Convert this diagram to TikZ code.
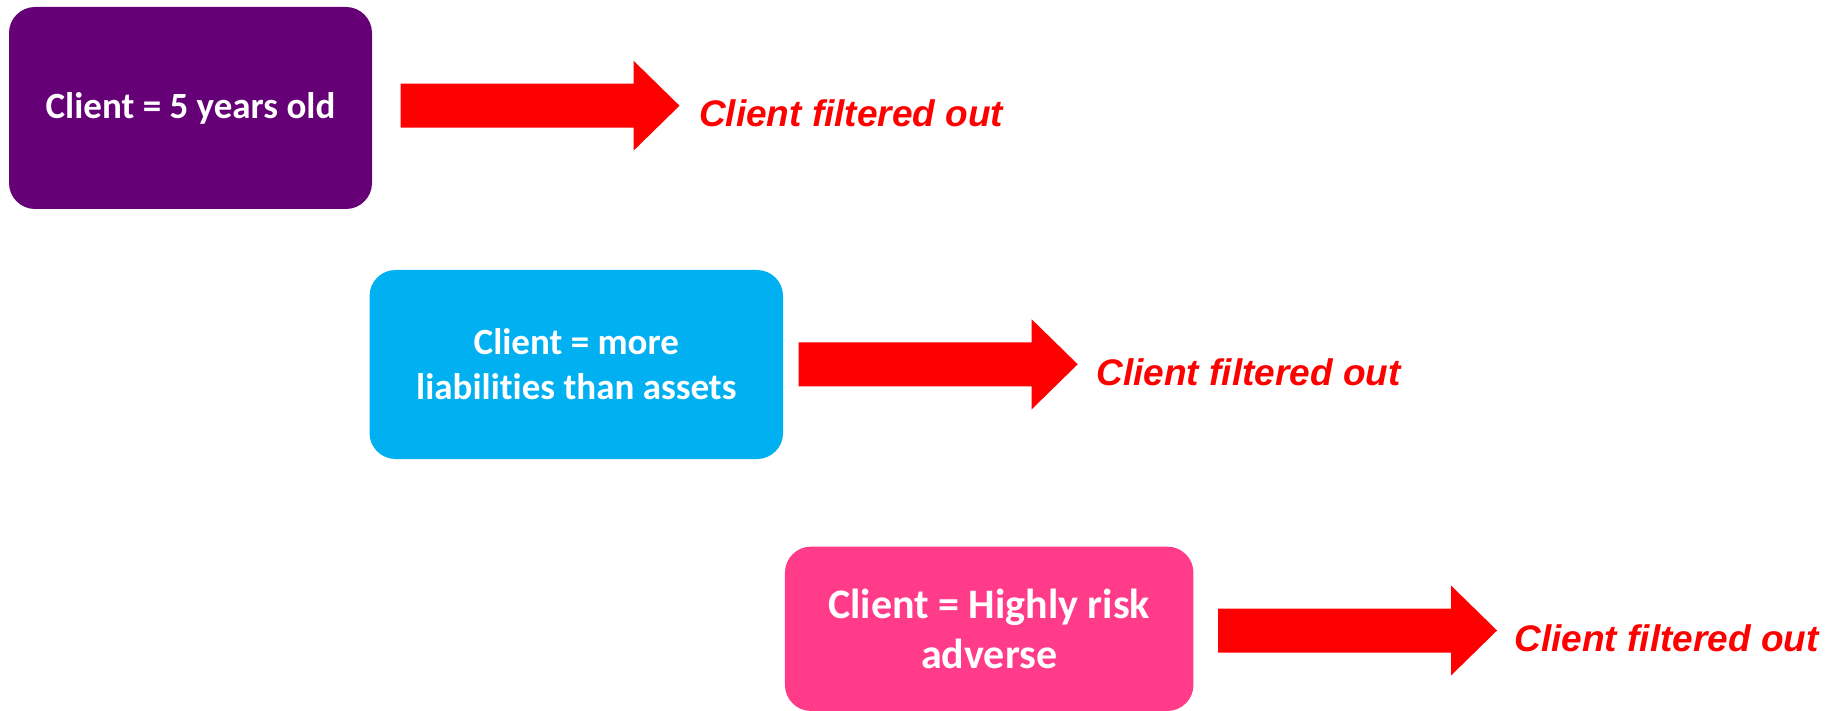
\documentclass[tikz,border=0pt]{standalone}
\usepackage{fontspec}
\setmainfont[Ligatures=NoCommon]{Carlito}
\newfontfamily\arialfont{Liberation Sans}
\definecolor{boxpurple}{HTML}{660077}
\definecolor{boxcyan}{HTML}{00B0F0}
\definecolor{boxpink}{HTML}{FF3B8A}
\definecolor{arrowred}{HTML}{FF0000}
\tikzset{
  stepbox/.style={rectangle, rounded corners=13pt, inner sep=0pt, align=center,
    text=white, font=\bfseries\fontsize{18.5}{22.5}\selectfont},
  outlabel/.style={anchor=base west, inner sep=0pt, text=arrowred,
    font=\arialfont\bfseries\itshape\fontsize{18.5}{22}\selectfont},
  flowarrow/.pic={
    \fill[arrowred] (0,-22) -- (233,-22) -- (233,-45) -- (279,0)
      -- (233,45) -- (233,22) -- (0,22) -- cycle;
  }
}
\begin{document}
\begin{tikzpicture}[x=0.5pt, y=-0.5pt]
  \useasboundingbox (0,0) rectangle (1831,711);

  % condition boxes
  \node[stepbox, fill=boxpurple, minimum width=363*0.5pt, minimum height=202*0.5pt]
    (age) at (190.5,108) {Client = 5 years old};
  \node[stepbox, fill=boxcyan, minimum width=413.5*0.5pt, minimum height=189*0.5pt]
    (debt) at (576.3,364.5) {Client = more\\liabilities than assets};
  \node[stepbox, fill=boxpink, minimum width=408.5*0.5pt, minimum height=164.3*0.5pt,
    font=\bfseries\fontsize{21}{25}\selectfont]
    (risk) at (989.2,628.8) {Client = Highly risk\\adverse};

  % block arrows
  \pic at (400.5,105.7) {flowarrow};
  \pic at (798.7,364.3) {flowarrow};
  \pic at (1218,630.5) {flowarrow};

  % outcomes
  \node[outlabel] (out1) at (698.6,127) {Client filtered out};
  \node[outlabel] (out2) at (1096,385.5) {Client filtered out};
  \node[outlabel] (out3) at (1514,651.7) {Client filtered out};
\end{tikzpicture}
\end{document}
